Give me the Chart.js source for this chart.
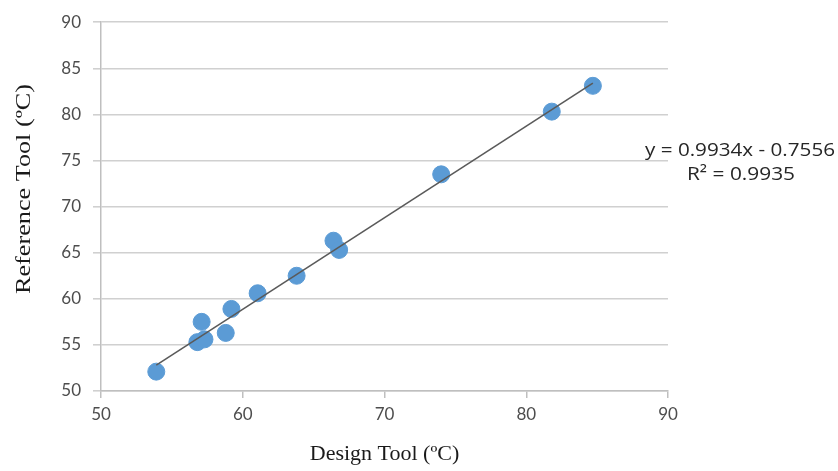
<!DOCTYPE html>
<html>
<head>
<meta charset="utf-8">
<script src="https://cdn.jsdelivr.net/npm/chart.js@4.4.1/dist/chart.umd.min.js"></script>
<style>
  html, body { margin: 0; padding: 0; background: #fff; }
  #wrap { width: 838px; height: 471px; }
</style>
</head>
<body>
<div id="wrap"><canvas id="scatterChart"></canvas></div>
<script>
// values
const designTool = [53.9, 56.8, 57.3, 57.1, 58.8, 59.2, 61.05, 63.8, 66.4, 66.8, 74.0, 81.8, 84.7];
const referenceTool = [52.1, 55.3, 55.6, 57.5, 56.3, 58.9, 60.6, 62.5, 66.3, 65.3, 73.5, 80.3, 83.1];
const trendX = [53.9, 84.7];
const trendY = [52.8, 83.4];
const xTicks = [50, 60, 70, 80, 90];
const yTicks = [50, 55, 60, 65, 70, 75, 80, 85, 90];
const equationText = ['y = 0.9934x - 0.7556', 'R² = 0.9935'];
const yTitle = 'Reference Tool (ºC)';

const points = designTool.map((x, i) => ({ x: x, y: referenceTool[i] }));
const trend = trendX.map((x, i) => ({ x: x, y: trendY[i] }));

// draws text squeezed/stretched to a given width
function fitText(ctx, text, x, y, width) {
    const w = ctx.measureText(text).width;
    ctx.save();
    ctx.translate(x, y);
    ctx.scale(width / w, 1);
    ctx.fillText(text, 0, 0);
    ctx.restore();
}

const extraText = {
    id: 'extraText',
    afterDraw(chart) {
        const ctx = chart.ctx;
        ctx.save();
        ctx.fillStyle = '#262626';
        ctx.textBaseline = 'alphabetic';
        ctx.textAlign = 'center';
        ctx.font = '19px "Open Sans"';
        fitText(ctx, equationText[0], 740, 156, 190);
        fitText(ctx, equationText[1], 741, 180, 108);

        // y axis title
        ctx.fillStyle = '#1a1a1a';
        ctx.font = '21px "Liberation Serif"';
        ctx.textBaseline = 'middle';
        ctx.translate(24, 189);
        ctx.rotate(-Math.PI / 2);
        fitText(ctx, yTitle, 0, 0, 210);
        ctx.restore();
    }
};

function initScatterChart() {
    const ctx = document.getElementById('scatterChart').getContext('2d');
    new Chart(ctx, {
        type: 'scatter',
        data: {
            datasets: [{
                label: 'Trend',
                type: 'line',
                data: trend,
                borderColor: '#5a5a5a',
                borderWidth: 1.6,
                pointRadius: 0,
                fill: false,
                order: 1
            }, {
                label: 'Points',
                data: points,
                backgroundColor: '#5b9bd5',
                borderColor: '#5b9bd5',
                pointRadius: 8.5,
                pointHoverRadius: 8.5,
                order: 2
            }]
        },
        options: {
            responsive: true,
            maintainAspectRatio: false,
            animation: false,
            layout: { padding: { top: 20, right: 170, left: 0, bottom: 0 } },
            scales: {
                x: {
                    type: 'linear',
                    min: 50,
                    max: 90,
                    afterBuildTicks: axis => { axis.ticks = xTicks.map(v => ({ value: v })); },
                    afterFit: axis => { axis.height = 80; },
                    ticks: {
                        color: '#4d4d4d',
                        font: { family: 'Lato', size: 17 },
                        padding: 6
                    },
                    grid: {
                        drawOnChartArea: false,
                        drawTicks: true,
                        tickLength: 7,
                        color: '#bfbfbf',
                        lineWidth: 1.5
                    },
                    border: { color: '#bfbfbf', width: 1.5 },
                    title: {
                        display: true,
                        text: 'Design Tool (ºC)',
                        color: '#1a1a1a',
                        font: { family: 'Liberation Serif', size: 22 },
                        padding: { top: 6 }
                    }
                },
                y: {
                    min: 50,
                    max: 90,
                    afterBuildTicks: axis => { axis.ticks = yTicks.map(v => ({ value: v })); },
                    afterFit: axis => { axis.width = 101; },
                    ticks: {
                        color: '#4d4d4d',
                        font: { family: 'Lato', size: 17 },
                        padding: 12
                    },
                    grid: {
                        color: '#d0d0d0',
                        lineWidth: 1.6,
                        drawTicks: true,
                        tickLength: 8
                    },
                    border: { color: '#bfbfbf', width: 1.5 }
                }
            },
            plugins: {
                legend: { display: false },
                tooltip: { enabled: false }
            }
        },
        plugins: [extraText]
    });
}

document.addEventListener('DOMContentLoaded', initScatterChart);
</script>
</body>
</html>
